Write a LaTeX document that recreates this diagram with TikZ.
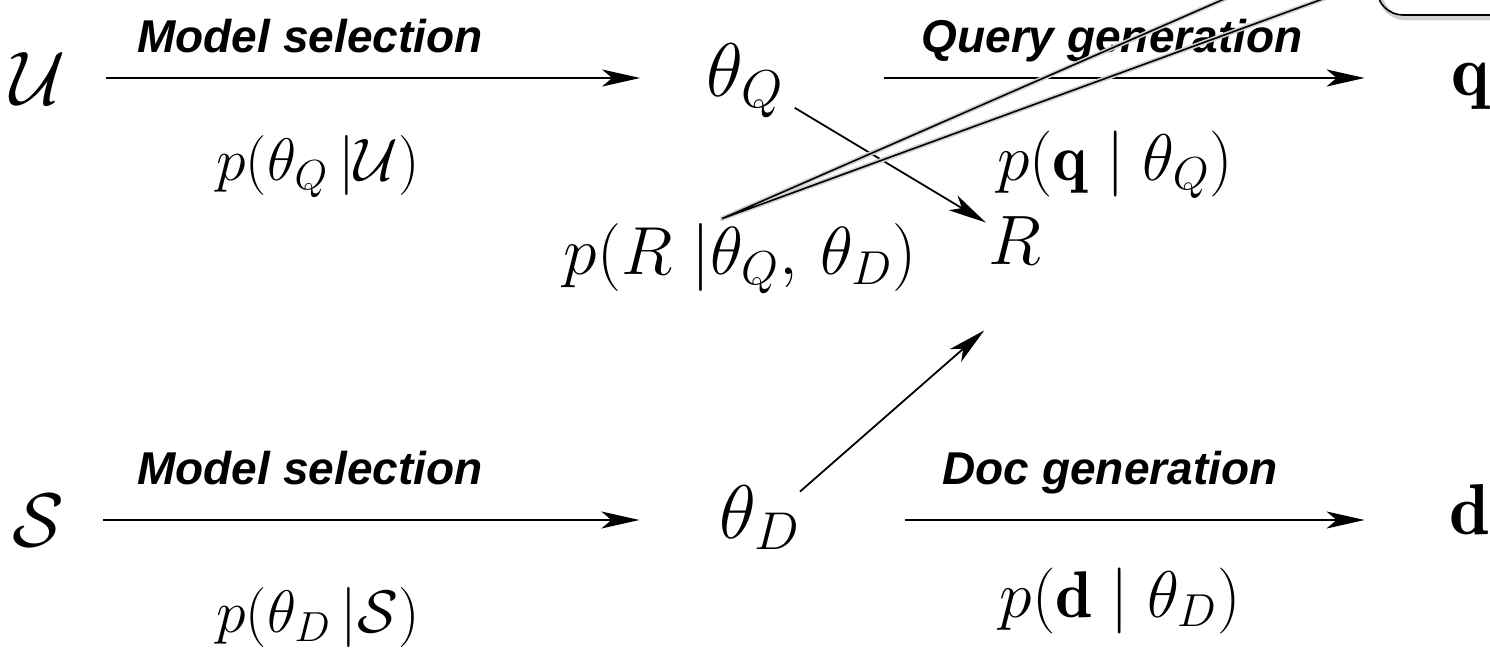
\RequirePackage{fix-cm}
\documentclass[tikz,border=0pt]{standalone}
\usepackage{amsmath,amssymb}
\usepackage{fontspec}
\newfontfamily\stagefont{Liberation Sans}
\usetikzlibrary{arrows.meta,positioning,calc}

\begin{document}
\begin{tikzpicture}[
   x=0.5pt, y=-0.5pt,
   >={Stealth[length=19pt,width=8.5pt,inset=5pt]},
   arr/.style={->, line width=0.9pt},
   var/.style={inner sep=0pt, font=\fontsize{38}{42}\selectfont,
               text height=27pt, text depth=9pt},
   cal/.style={inner sep=0pt, font=\fontsize{38}{42}\selectfont,
               text height=26pt, text depth=0pt},
   vec/.style={inner sep=0pt, anchor=base, font=\fontsize{36}{40}\selectfont},
   prob/.style={inner sep=0pt, anchor=base, font=\fontsize{33}{38}\selectfont},
   stage/.style={inner sep=0pt, anchor=base,
                 font=\stagefont\fontsize{23}{27}\selectfont\bfseries\itshape},
   callout/.style={line width=0.8pt},
   shade/.style={line width=2.4pt, black!18, line join=round}]
  \useasboundingbox (0,0) rectangle (1490,669);

  % query side
  \node[cal]   (U)    at (38,78)    {$\mathcal{U}$};
  \node[var]   (thQ)  at (745,78)   {$\theta_Q$};
  \node[vec]   (q)    at (1470,95)  {$\mathbf{q}$};
  \node[stage] (selQ) at (310,52)   {Model selection};
  \node[stage] (gen)  at (1112,52)  {Query generation};
  \node[prob, font=\fontsize{30}{34}\selectfont]
               (pQ)   at (318,180)  {$p(\theta_Q\,|\mathcal{U})$};
  \node[prob]  (pq)   at (1115,180) {$p(\mathbf{q}\mid\theta_Q)$};

  % relevance
  \node[var, font=\fontsize{35}{40}\selectfont, text height=24pt, text depth=0pt]
               (R)    at (1015,240) {$R$};
  \node[prob, font=\fontsize{34}{39}\selectfont]
               (pR)   at (740,274)  {$p(R\;|\theta_Q,\,\theta_D)$};

  % document side
  \node[cal]   (S)    at (38,520)   {$\mathcal{S}$};
  \node[var]   (thD)  at (760,520)  {$\theta_D$};
  \node[vec]   (d)    at (1470,534) {$\mathbf{d}$};
  \node[stage] (selD) at (310,484)  {Model selection};
  \node[stage] (docg) at (1110,484) {Doc generation};
  \node[prob, font=\fontsize{30}{34}\selectfont]
               (pD)   at (318,632)  {$p(\theta_D\,|\mathcal{S})$};
  \node[prob]  (pd)   at (1120,617) {$p(\mathbf{d}\mid\theta_D)$};

  \draw[arr, shorten <=20pt, shorten >=33pt] (U.east) -- (thQ.west);
  \draw[arr, shorten <=50pt, shorten >=43pt] (thQ.east) -- (thQ.east -| q.west);
  \draw[arr, shorten <=19.5pt, shorten >=40pt] (S.east) -- (thD.west);
  \draw[arr, shorten <=52pt, shorten >=42.5pt] (thD.east) -- (thD.east -| d.west);
  \draw[arr, shorten <=29pt, shorten >=17pt] (thQ.center) -- (R.center);
  \draw[arr] ([shift={(20pt,-4pt)}]thD.north) -- ([shift={(-2pt,-33pt)}]R.south west);

  % callout pointing at the relevance term
  \path (pR.north) ++(-18,-4) coordinate (tip);
  \coordinate (cA) at ($(tip)!1.31!(1222,0)$);
  \coordinate (cB) at ($(tip)!1.095!(1320,0)$);
  \begin{scope}[shift={(1.5pt,-1.5pt)}]
    \draw[shade] (cA) -- (tip) -- (cB) -- (1377,-11)
      arc[start angle=180, end angle=270, radius=13pt] -- (1520,15);
  \end{scope}
  \draw[callout] (cA) -- (tip) -- (cB) -- (1377,-11)
    arc[start angle=180, end angle=270, radius=13pt] -- (1520,15);
\end{tikzpicture}
\end{document}
